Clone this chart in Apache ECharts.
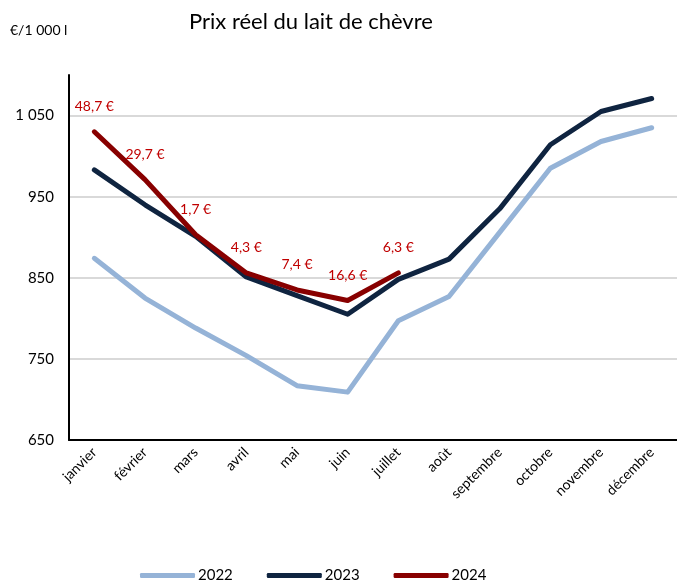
<!DOCTYPE html>
<html>
<head>
<meta charset="utf-8">
<script src="https://cdn.jsdelivr.net/npm/echarts@6/dist/echarts.min.js"></script>
<style>html,body{margin:0;padding:0;background:#fff}#c{width:677px;height:583px}</style>
</head>
<body>
<div id="c"></div>
<script>
const months = ['janvier','février','mars','avril','mai','juin','juillet','août','septembre','octobre','novembre','décembre'];
const years = ['2022','2023','2024'];
const v2022 = [874, 825, 788, 754, 717, 709, 797, 827, 906, 985, 1018, 1035];
const v2023 = [983, 940, 901, 851, 828, 805, 848, 873, 935, 1014, 1055, 1071];
const v2024 = [1030, 971, 903, 856, 835, 822, 856];
const labels2024 = ['48,7 €','29,7 €','1,7 €','4,3 €','7,4 €','16,6 €','6,3 €'];
const colors = ['#95b3d7', '#0f2440', '#880000'];

const FONT = 'Lato';
const chart = echarts.init(document.getElementById('c'), null, {renderer: 'canvas'});

function series(name, data, color, z) {
  return {
    name: name, type: 'line', data: data, symbol: 'none', smooth: false, z: z,
    lineStyle: {width: 5, color: color, cap: 'round', join: 'round'},
    itemStyle: {color: color}
  };
}

const s2024 = series('2024', v2024, colors[2], 4);
s2024.symbol = 'circle';
s2024.symbolSize = 2;
s2024.showSymbol = true;
s2024.label = {
  show: true, position: 'top', distance: 17, color: '#c00000',
  fontFamily: FONT, fontSize: 14,
  formatter: p => labels2024[p.dataIndex]
};
s2024.labelLayout = {hideOverlap: false};

const splitColors = ['transparent','transparent','#d9d9d9','transparent','#d9d9d9','transparent','#d9d9d9','transparent','#d9d9d9','transparent'];

chart.setOption({
  animation: false,
  textStyle: {fontFamily: FONT},
  title: [
    {text: 'Prix réel du lait de chèvre', left: 184, top: 6, textStyle: {fontFamily: FONT, fontSize: 22, fontWeight: 'normal', color: '#000'}},
    {text: '€/1 000 l', left: 5, top: 18, textStyle: {fontFamily: FONT, fontSize: 14, fontWeight: 'normal', color: '#000'}}
  ],
  legend: {
    data: years, top: 563, left: 135, itemWidth: 55, itemHeight: 5, itemGap: 34,
    icon: 'roundRect',
    textStyle: {fontFamily: FONT, fontSize: 15, color: '#000', padding: [0,0,0,-2]}
  },
  grid: {left: 69, right: -6, top: 75, bottom: 143, containLabel: false},
  xAxis: {
    type: 'category', data: months, boundaryGap: true,
    axisLine: {lineStyle: {color: '#000', width: 2}},
    axisTick: {show: false},
    axisLabel: {rotate: 45, color: '#000', fontFamily: FONT, fontSize: 14, margin: 10, interval: 0}
  },
  yAxis: {
    type: 'value', min: 650, max: 1100, interval: 50,
    axisLine: {show: true, lineStyle: {color: '#000', width: 2}},
    axisTick: {show: false},
    splitLine: {show: true, lineStyle: {color: splitColors, width: 2}},
    axisLabel: {
      color: '#000', fontFamily: FONT, fontSize: 15, margin: 15,
      formatter: v => ((v - 650) % 100 === 0 && v < 1100) ? String(v).replace(/\B(?=(\d{3})+(?!\d))/g, ' ') : ''
    }
  },
  series: [
    series('2022', v2022, colors[0], 2),
    series('2023', v2023, colors[1], 3),
    s2024
  ]
});
</script>
</body>
</html>
